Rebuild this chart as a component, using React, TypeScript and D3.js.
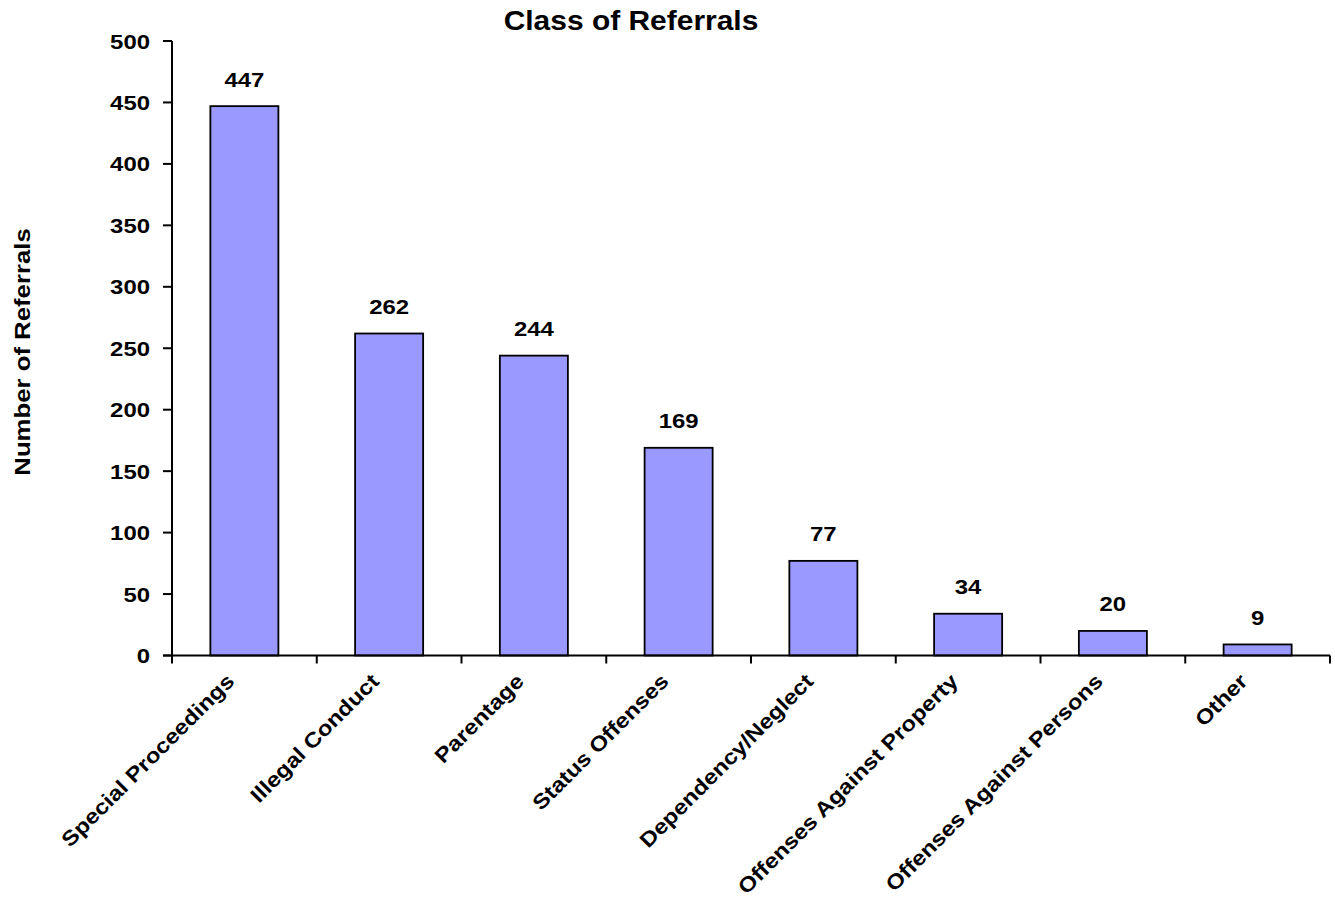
import React, { useEffect, useRef } from 'react';
import * as d3 from 'd3';

const categories = [
  'Special Proceedings',
  'Illegal Conduct',
  'Parentage',
  'Status Offenses',
  'Dependency/Neglect',
  'Offenses Against Property',
  'Offenses Against Persons',
  'Other',
];
const referrals = [447, 262, 244, 169, 77, 34, 20, 9];
const yTicks = [0, 50, 100, 150, 200, 250, 300, 350, 400, 450, 500];

const W = 1335;
const H = 897;
const FONT = '"Liberation Sans", Arial, sans-serif';
const SX = 1.14; // glyphs in the original are rendered a bit wide

const App = () => {
  const svgRef = useRef<SVGSVGElement>(null);

  useEffect(() => {
    const svg = d3.select(svgRef.current);
    svg.selectAll('*').remove();

    const left = 172;
    const right = 1330;
    const top = 41;
    const bottom = 655.5;

    const x = d3.scaleBand<string>().domain(categories).range([left, right]).padding(0);
    const y = d3.scaleLinear().domain([0, 500]).range([bottom, top]);
    const barW = x.bandwidth() * 0.47;

    const boldText = (sel: any, size: number) =>
      sel.attr('font-family', FONT).attr('font-weight', 'bold').attr('font-size', size).attr('fill', '#000');

    // title
    boldText(svg.append('text'), 28)
      .attr('transform', `translate(631,30) scale(1.07,1)`)
      .attr('text-anchor', 'middle')
      .text('Class of Referrals');

    // y axis title
    boldText(svg.append('text'), 22)
      .attr('transform', `translate(30,${352}) rotate(-90) scale(1.17,1)`)
      .attr('text-anchor', 'middle')
      .text('Number of Referrals');

    // bars
    svg.append('g')
      .selectAll('rect')
      .data(referrals)
      .enter().append('rect')
      .attr('x', (d, i) => x(categories[i])! + (x.bandwidth() - barW) / 2)
      .attr('y', d => y(d))
      .attr('width', barW)
      .attr('height', d => bottom - y(d))
      .attr('fill', '#9999FF')
      .attr('stroke', '#000')
      .attr('stroke-width', 1.8);

    // value labels
    boldText(svg.append('g')
      .selectAll('text')
      .data(referrals)
      .enter().append('text'), 21)
      .attr('transform', (d, i) => `translate(${x(categories[i])! + x.bandwidth() / 2},${y(d) - 19.5}) scale(${SX},1)`)
      .attr('text-anchor', 'middle')
      .text(d => d);

    // y axis
    svg.append('line')
      .attr('x1', left).attr('x2', left)
      .attr('y1', top).attr('y2', bottom)
      .attr('stroke', '#000').attr('stroke-width', 2);
    svg.selectAll('.ytick')
      .data(yTicks)
      .enter().append('line')
      .attr('class', 'ytick')
      .attr('x1', left - 9).attr('x2', left)
      .attr('y1', d => y(d)).attr('y2', d => y(d))
      .attr('stroke', '#000').attr('stroke-width', 2);
    boldText(svg.selectAll('.ylabel')
      .data(yTicks)
      .enter().append('text')
      .attr('class', 'ylabel'), 21)
      .attr('transform', d => `translate(150,${y(d)}) scale(${SX},1)`)
      .attr('text-anchor', 'end')
      .attr('dy', '0.36em')
      .text(d => d);

    // x axis
    const xAxis = svg.append('g').attr('transform', `translate(0,${bottom})`);
    xAxis.append('line')
      .attr('x1', left - 9).attr('x2', right)
      .attr('stroke', '#000').attr('stroke-width', 2);
    const edges = categories.map(c => x(c)!).concat([right]);
    xAxis.selectAll('.xtick')
      .data(edges)
      .enter().append('line')
      .attr('class', 'xtick')
      .attr('x1', d => d).attr('x2', d => d)
      .attr('y1', 0).attr('y2', 8)
      .attr('stroke', '#000').attr('stroke-width', 2);
    boldText(xAxis.selectAll('.xlabel')
      .data(categories)
      .enter().append('text')
      .attr('class', 'xlabel'), 21)
      .attr('transform', d => `translate(${x(d)! + x.bandwidth() / 2 - 14},${22}) rotate(-45) scale(${SX},1)`)
      .attr('text-anchor', 'end')
      .attr('dy', '0.35em')
      .text(d => d);
  }, []);

  return (
    <svg
      ref={svgRef}
      width={W}
      height={H}
      style={{ position: 'absolute', left: 0, top: 0, background: '#fff' }}
    />
  );
};

export default App;
